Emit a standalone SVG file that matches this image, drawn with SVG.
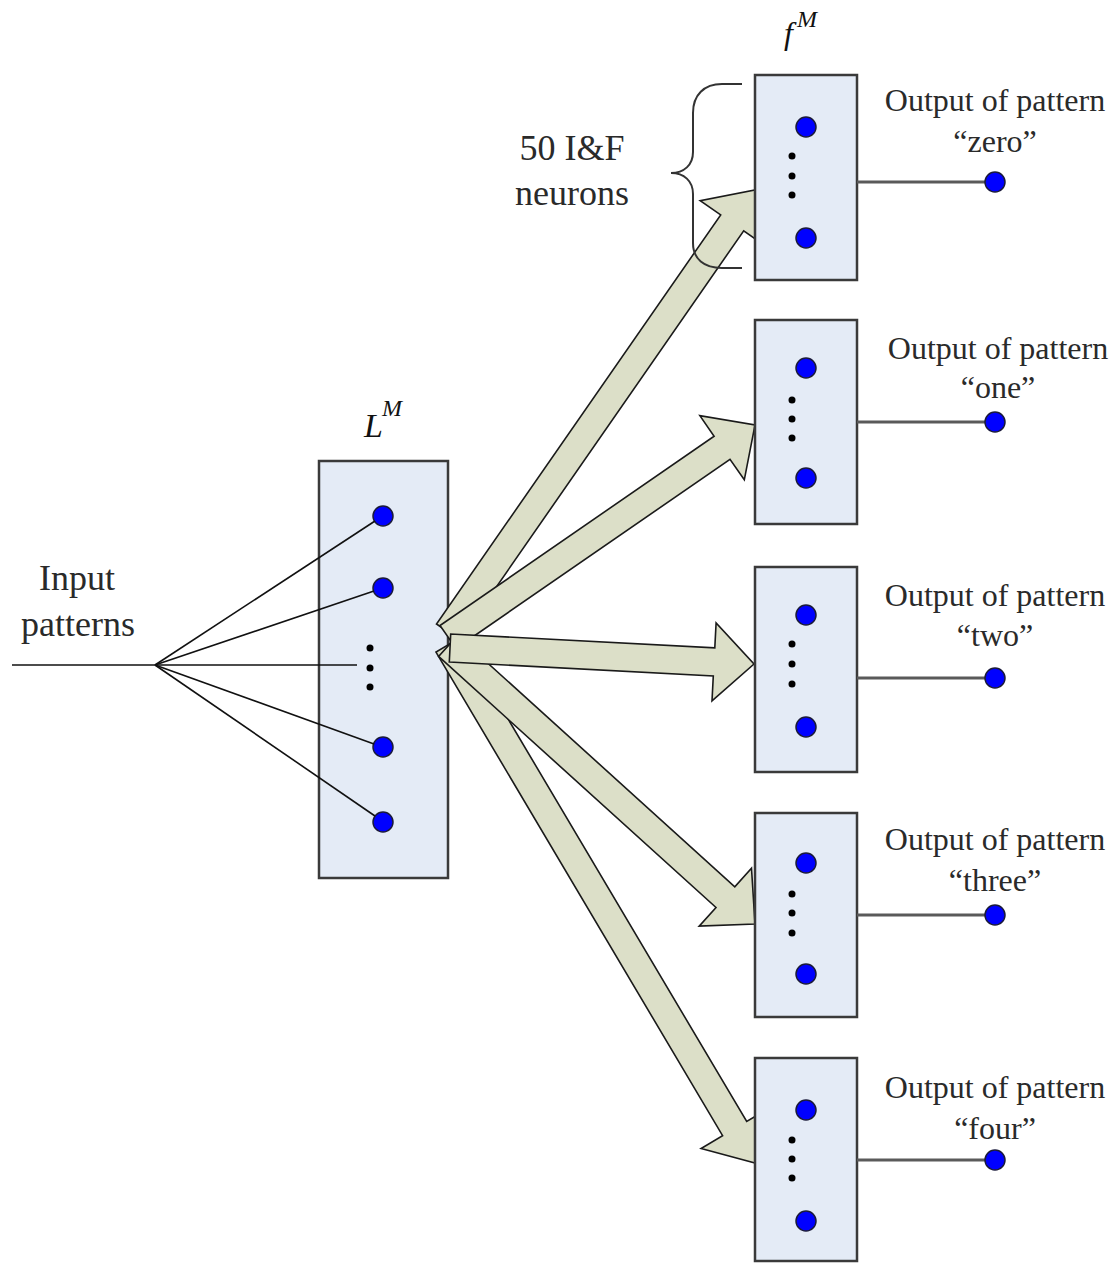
<svg xmlns="http://www.w3.org/2000/svg" width="1118" height="1263" viewBox="0 0 1118 1263">
  <style>
    .box { fill: #e4ebf6; stroke: #3a3a3a; stroke-width: 2.5; }
    .neuron { fill: #0000ff; stroke: #1a1a3a; stroke-width: 1.5; }
    .dot { fill: #000; }
    .syn { stroke: #111; stroke-width: 1.6; fill: none; }
    .out { stroke: #5a5a5a; stroke-width: 3; fill: none; }
    .arrow { fill: #dcdfc8; stroke: #1a1a1a; stroke-width: 1.6; stroke-linejoin: miter; }
    .lbl { font-family: "Liberation Serif", "Times New Roman", serif; fill: #2a2a2a; text-anchor: middle; }
    .big { font-size: 36px; }
    .small { font-size: 32px; }
    .math { font-family: "Liberation Serif", "Times New Roman", serif; font-style: italic; fill: #111; }
  </style>

  <!-- liquid layer L^M -->
  <g id="layer-L">
    <rect class="box" x="319" y="461" width="129" height="417"/>
    <circle class="neuron" cx="383" cy="516" r="10"/>
    <circle class="neuron" cx="383" cy="588" r="10"/>
    <circle class="dot" cx="370" cy="648" r="3.5"/>
    <circle class="dot" cx="370" cy="668" r="3.5"/>
    <circle class="dot" cx="370" cy="687" r="3.5"/>
    <circle class="neuron" cx="383" cy="747" r="10"/>
    <circle class="neuron" cx="383" cy="822" r="10"/>
    <text class="math" x="364" y="437" font-size="34">L</text>
    <text class="math" x="382" y="416" font-size="24">M</text>
  </g>

  <!-- input fan-in lines onto the layer neurons -->
  <g id="input">
    <line class="syn" x1="12" y1="665" x2="357" y2="665"/>
    <line class="syn" x1="155" y1="665" x2="375" y2="521"/>
    <line class="syn" x1="155" y1="665" x2="374" y2="591"/>
    <line class="syn" x1="155" y1="665" x2="374" y2="744"/>
    <line class="syn" x1="155" y1="665" x2="375" y2="816"/>
    <text class="lbl big" x="77" y="590">Input</text>
    <text class="lbl big" x="78" y="636">patterns</text>
  </g>

  <!-- block arrows from L^M to each readout -->
  <g id="connectors">
    <polygon class="arrow" points="459.5,640 743.7,230.8 764.2,245.1 755,190 700.2,200.6 720.7,214.9 436.5,624"/>
    <polygon class="arrow" points="456,648.5 730,459.3 744.3,479.8 755,425 699.9,415.6 714.1,436.2 440,625.5"/>
    <polygon class="arrow" points="436,652.1 722.6,1135.7 701.1,1148.5 755,1163 768.2,1108.7 746.7,1121.5 460,637.9"/>
    <polygon class="arrow" points="438.6,656.4 716,907.5 699.2,926.1 755,924 751.5,868.2 734.8,886.8 457.4,635.6"/>
    <polygon class="arrow" points="449.3,662 713.3,675.9 712,700.9 754,664 716.1,623 714.8,647.9 450.7,634"/>
  </g>

  <!-- readout f^M for "zero" -->
  <g id="readout-zero">
    <rect class="box" x="755" y="75" width="102" height="205"/>
    <circle class="neuron" cx="806" cy="127" r="10"/>
    <circle class="dot" cx="792" cy="156" r="3.5"/>
    <circle class="dot" cx="792" cy="176" r="3.5"/>
    <circle class="dot" cx="792" cy="195" r="3.5"/>
    <circle class="neuron" cx="806" cy="238" r="10"/>
    <line class="out" x1="857" y1="182" x2="995" y2="182"/>
    <circle class="neuron" cx="995" cy="182" r="10"/>
    <text class="lbl small" x="995" y="111">Output of pattern</text>
    <text class="lbl small" x="995" y="152">“zero”</text>
    <text class="math" x="784" y="44" font-size="32">f</text>
    <text class="math" x="797" y="27" font-size="24">M</text>
  </g>

  <!-- brace marking the 50 neurons -->
  <g id="brace">
    <path d="M742,84 L722,84 C704,84 693,95 693,113 L693,152 C693,165 684,173 671,173 C684,173 693,181 693,194 L693,243 C693,259 704,268 722,268 L742,268" fill="none" stroke="#333" stroke-width="2"/>
    <text class="lbl big" x="572" y="160">50 I&amp;F</text>
    <text class="lbl big" x="572" y="205">neurons</text>
  </g>

  <g id="readout-one">
    <rect class="box" x="755" y="320" width="102" height="204"/>
    <circle class="neuron" cx="806" cy="368" r="10"/>
    <circle class="dot" cx="792" cy="400" r="3.5"/>
    <circle class="dot" cx="792" cy="419" r="3.5"/>
    <circle class="dot" cx="792" cy="438" r="3.5"/>
    <circle class="neuron" cx="806" cy="478" r="10"/>
    <line class="out" x1="857" y1="422" x2="995" y2="422"/>
    <circle class="neuron" cx="995" cy="422" r="10"/>
    <text class="lbl small" x="998" y="359">Output of pattern</text>
    <text class="lbl small" x="998" y="398">“one”</text>
  </g>

  <g id="readout-two">
    <rect class="box" x="755" y="567" width="102" height="205"/>
    <circle class="neuron" cx="806" cy="615" r="10"/>
    <circle class="dot" cx="792" cy="644" r="3.5"/>
    <circle class="dot" cx="792" cy="664" r="3.5"/>
    <circle class="dot" cx="792" cy="684" r="3.5"/>
    <circle class="neuron" cx="806" cy="727" r="10"/>
    <line class="out" x1="857" y1="678" x2="995" y2="678"/>
    <circle class="neuron" cx="995" cy="678" r="10"/>
    <text class="lbl small" x="995" y="606">Output of pattern</text>
    <text class="lbl small" x="995" y="646">“two”</text>
  </g>

  <g id="readout-three">
    <rect class="box" x="755" y="813" width="102" height="204"/>
    <circle class="neuron" cx="806" cy="863" r="10"/>
    <circle class="dot" cx="792" cy="894" r="3.5"/>
    <circle class="dot" cx="792" cy="913" r="3.5"/>
    <circle class="dot" cx="792" cy="933" r="3.5"/>
    <circle class="neuron" cx="806" cy="974" r="10"/>
    <line class="out" x1="857" y1="915" x2="995" y2="915"/>
    <circle class="neuron" cx="995" cy="915" r="10"/>
    <text class="lbl small" x="995" y="850">Output of pattern</text>
    <text class="lbl small" x="995" y="891">“three”</text>
  </g>

  <g id="readout-four">
    <rect class="box" x="755" y="1058" width="102" height="203"/>
    <circle class="neuron" cx="806" cy="1110" r="10"/>
    <circle class="dot" cx="792" cy="1140" r="3.5"/>
    <circle class="dot" cx="792" cy="1159" r="3.5"/>
    <circle class="dot" cx="792" cy="1178" r="3.5"/>
    <circle class="neuron" cx="806" cy="1221" r="10"/>
    <line class="out" x1="857" y1="1160" x2="995" y2="1160"/>
    <circle class="neuron" cx="995" cy="1160" r="10"/>
    <text class="lbl small" x="995" y="1098">Output of pattern</text>
    <text class="lbl small" x="995" y="1139">“four”</text>
  </g>
</svg>
